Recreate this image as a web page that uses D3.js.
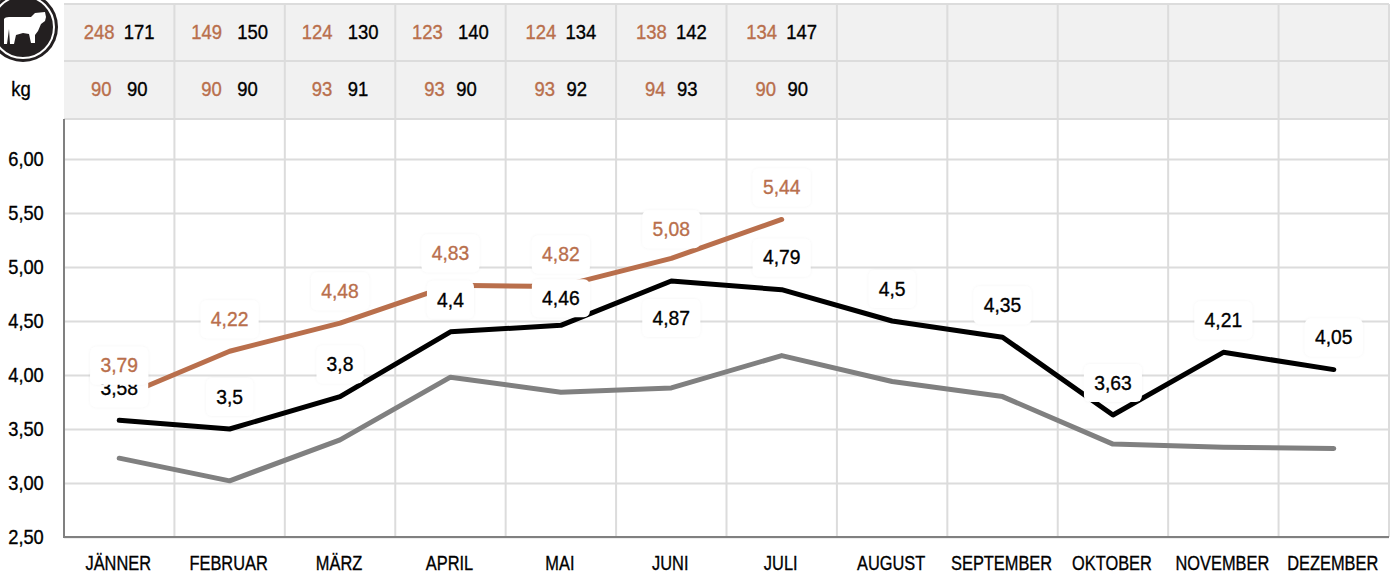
<!DOCTYPE html>
<html>
<head>
<meta charset="utf-8">
<script src="https://cdn.jsdelivr.net/npm/d3@7"></script>
<style>
  html, body { margin: 0; padding: 0; background: #fff; }
  svg { display: block; font-family: "Liberation Sans", Arial, sans-serif; }
</style>
</head>
<body>
<div id="container"></div>
<script>
// data
const months = ["JÄNNER", "FEBRUAR", "MÄRZ", "APRIL", "MAI", "JUNI", "JULI", "AUGUST", "SEPTEMBER", "OKTOBER", "NOVEMBER", "DEZEMBER"];
const yTicks = [2.5, 3, 3.5, 4, 4.5, 5, 5.5, 6];

const currentYear = [3.79, 4.22, 4.48, 4.83, 4.82, 5.08, 5.44];
const lastYear = [3.58, 3.5, 3.8, 4.4, 4.46, 4.87, 4.79, 4.5, 4.35, 3.63, 4.21, 4.05];
const average = [3.23, 3.02, 3.4, 3.98, 3.84, 3.88, 4.18, 3.94, 3.8, 3.36, 3.33, 3.32];

const topCurrent = [248, 149, 124, 123, 124, 138, 134];
const topLast = [171, 150, 130, 140, 134, 142, 147];
const bottomCurrent = [90, 90, 93, 93, 93, 94, 90];
const bottomLast = [90, 90, 91, 90, 92, 93, 90];

// chart size
const width = 1396,
  height = 575,
  plotLeft = 64,
  plotRight = 1389,
  tableTop = 4,
  tableMid = 61,
  plotTop = 119,
  plotBottom = 537;

const orange = "#b96f4c",
  grey = "#808080",
  gridColor = "#dcdcdc";

// the type in the reference is narrower than Liberation Sans, caps more than digits
const squeezeCaps = 0.78,
  squeezeTable = 0.88,
  squeezeLabel = 0.92,
  squeezeTick = 0.87,
  fontSize = 21,
  weight = 0.35; // a thin stroke brings the weight up to the reference

const svg = d3.select("#container").append("svg")
  .attr("width", width)
  .attr("height", height)
  .attr("viewBox", [0, 0, width, height]);

const xScale = d3.scaleBand(months, [plotLeft, plotRight]);
const yScale = d3.scaleLinear([2.5, 6], [plotBottom, 159]);
const xCenter = (i) => xScale(months[i]) + xScale.bandwidth() / 2;
const fmt = (v) => String(v).replace(".", ",");
const fmtTick = (v) => d3.format(".2f")(v).replace(".", ",");

// narrow text, anchored on its center
function narrowText(parent, x, y, str, fill, squeeze) {
  return parent.append("text")
    .attr("transform", `translate(${x},${y}) scale(${squeeze},1)`)
    .attr("text-anchor", "middle")
    .attr("dy", "0.32em")
    .attr("font-size", fontSize)
    .attr("fill", fill)
    .attr("stroke", fill)
    .attr("stroke-width", weight)
    .text(str);
}

// table above the plot
const table = svg.append("g");
table.append("rect")
  .attr("x", plotLeft).attr("y", tableTop)
  .attr("width", plotRight - plotLeft).attr("height", plotTop - tableTop)
  .attr("fill", "#f1f1f1");
[tableTop, tableMid, plotTop].forEach((y) => {
  table.append("line")
    .attr("x1", plotLeft).attr("x2", plotRight)
    .attr("y1", y).attr("y2", y)
    .attr("stroke", gridColor).attr("stroke-width", 2);
});

// grid and axes
const yAxis = d3.axisLeft(yScale).tickValues(yTicks).tickFormat(fmtTick).tickSize(plotLeft - plotRight);
svg.append("g")
  .attr("transform", `translate(${plotLeft},0)`)
  .call(yAxis)
  .call((g) => g.select(".domain").remove())
  .call((g) => g.selectAll(".tick line").attr("stroke", gridColor).attr("stroke-width", 2))
  .call((g) => g.selectAll(".tick text")
    .attr("x", null).attr("dy", "0.32em")
    .attr("text-anchor", "middle")
    .attr("transform", `translate(-38,0) scale(${squeezeTick},1)`)
    .attr("font-size", fontSize).attr("font-family", null)
    .attr("fill", "#000").attr("stroke", "#000").attr("stroke-width", weight));

const xAxis = d3.axisBottom(xScale).tickSize(0);
svg.append("g")
  .attr("transform", `translate(0,${plotBottom})`)
  .call(xAxis)
  .call((g) => g.select(".domain").remove())
  .call((g) => g.selectAll(".tick text")
    .attr("y", null).attr("dy", null)
    .attr("transform", `translate(-1,33) scale(${squeezeCaps},1)`)
    .attr("font-size", fontSize).attr("font-family", null)
    .attr("fill", "#000").attr("stroke", "#000").attr("stroke-width", weight));

// vertical separators, full height
d3.range(1, months.length + 1).forEach((i) => {
  const x = i === months.length ? plotRight : xScale(months[i]);
  svg.append("line")
    .attr("x1", x).attr("x2", x)
    .attr("y1", tableTop).attr("y2", plotBottom)
    .attr("stroke", gridColor).attr("stroke-width", 2);
});

// left and bottom axis lines
svg.append("line")
  .attr("x1", plotLeft).attr("x2", plotLeft).attr("y1", plotTop).attr("y2", plotBottom)
  .attr("stroke", grey).attr("stroke-width", 2);
svg.append("line")
  .attr("x1", plotLeft - 1).attr("x2", plotRight).attr("y1", plotBottom).attr("y2", plotBottom)
  .attr("stroke", grey).attr("stroke-width", 2);

// table numbers
const spreadTop = (i) => (i >= 1 && i <= 3 ? 23 : 20);
const spreadBottom = (i) => (i <= 2 ? 18 : 16);
const tableText = svg.append("g");
topCurrent.forEach((v, i) => {
  narrowText(tableText, xCenter(i) - spreadTop(i), 32, v, orange, squeezeTable);
  narrowText(tableText, xCenter(i) + spreadTop(i), 32, topLast[i], "#000", squeezeTable);
  narrowText(tableText, xCenter(i) - spreadBottom(i), 89, bottomCurrent[i], orange, squeezeTable);
  narrowText(tableText, xCenter(i) + spreadBottom(i), 89, bottomLast[i], "#000", squeezeTable);
});
narrowText(svg, 21, 89, "kg", "#000", squeezeTable);

// lines
const line = d3.line().x((d, i) => xCenter(i)).y((d) => yScale(d));
[[average, grey], [lastYear, "#000"], [currentYear, orange]].forEach(([values, color]) => {
  svg.append("path")
    .attr("d", line(values))
    .attr("fill", "none")
    .attr("stroke", color)
    .attr("stroke-width", 5)
    .attr("stroke-linejoin", "round")
    .attr("stroke-linecap", "round");
});

// value labels in white boxes
svg.append("defs").append("filter").attr("id", "soft")
  .attr("x", "-20%").attr("y", "-20%").attr("width", "140%").attr("height", "140%")
  .append("feDropShadow")
  .attr("dx", 0).attr("dy", 0).attr("stdDeviation", 1.5)
  .attr("flood-color", "#000").attr("flood-opacity", 0.05);

function valueLabels(values, color, offset) {
  const g = svg.append("g");
  values.forEach((v, i) => {
    const str = fmt(v);
    const w = str.length * 11 + 14;
    const cy = yScale(v) + offset(i);
    g.append("rect")
      .attr("x", xCenter(i) - w / 2).attr("y", cy - 19)
      .attr("width", w).attr("height", 38)
      .attr("rx", 6)
      .attr("fill", "#fff")
      .attr("filter", "url(#soft)");
    narrowText(g, xCenter(i), cy, str, color, squeezeLabel);
  });
}

// most labels sit above the point; a few were moved by hand in the original
valueLabels(lastYear, "#000", (i) => (i === 5 ? 37 : i === 4 ? -27 : -32));
valueLabels(currentYear, orange, (i) => (i === 5 ? -29 : -32));

// cow badge
const badge = svg.append("g").attr("transform", "translate(23,27)");
badge.append("circle").attr("r", 35).attr("fill", "#231f20");
badge.append("circle").attr("r", 31).attr("fill", "none").attr("stroke", "#fff").attr("stroke-width", 2);
svg.append("path")
  .attr("fill", "#fff")
  .attr("d", "M4 19 Q5 17 9 17 L31 17 L35 13 L45 12 L46 17 L45 21 L41 24 L38 31 L35 35 L35 43 L31 43 L29 34 L23 33 L16 35 L14 44 L10 44 L9 29 L7 44 L4 44 Z");
</script>
</body>
</html>
